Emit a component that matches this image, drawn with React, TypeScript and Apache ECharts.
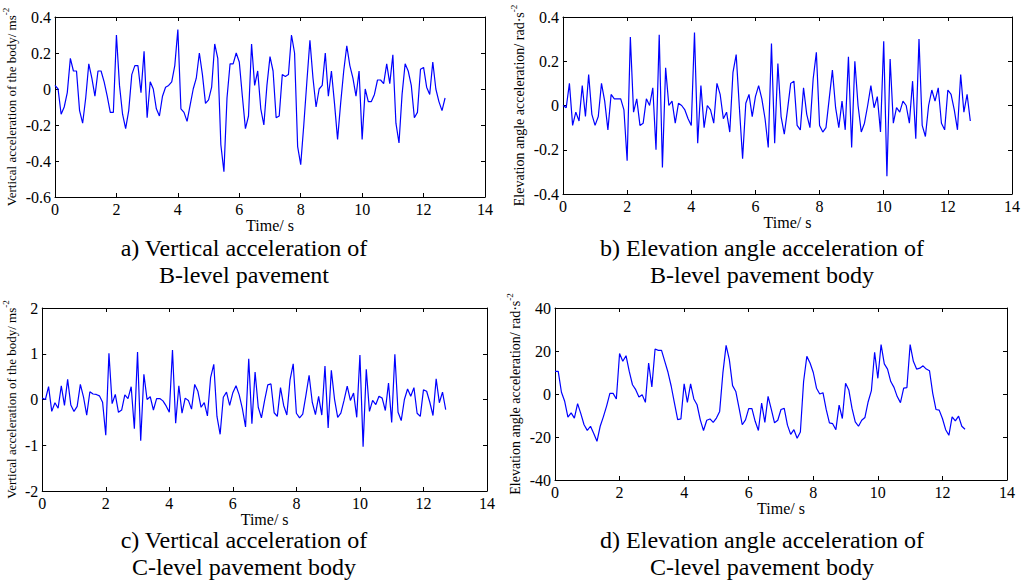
import React, { useEffect, useRef } from "react";
import * as echarts from "echarts";

const FONT = '"Liberation Serif", "Times New Roman", serif';
const DT = 0.1;

// a) B-level vertical acceleration (m/s^2), samples every 0.1 s from 0 to 12.7 s
const bVertical = [
  0.02, 0.0, -0.14, -0.1, -0.02, 0.17, 0.1, 0.1, -0.12, -0.19,
  -0.05, 0.14, 0.06, -0.04, 0.1, 0.1, 0.04, -0.04, -0.13, -0.13,
  0.3, 0.02, -0.14, -0.22, -0.12, 0.08, 0.13, 0.13, -0.02, 0.21,
  -0.16, 0.04, 0.0, -0.11, -0.15, -0.04, 0.01, 0.02, 0.04, 0.13,
  0.33, -0.11, -0.13, -0.18, -0.09, 0.0, 0.06, 0.2, 0.08, -0.08,
  -0.06, 0.01, 0.25, 0.17, -0.31, -0.46, -0.05, 0.14, 0.14, 0.2,
  0.15, -0.04, -0.22, -0.15, 0.25, 0.02, 0.1, -0.11, -0.2, 0.02,
  0.18, 0.1, -0.16, -0.15, 0.08, 0.07, 0.08, 0.3, 0.2, -0.32,
  -0.42, -0.2, 0.04, 0.27, 0.06, -0.1, 0.0, 0.02, 0.2, -0.04,
  0.1, -0.08, -0.28, -0.08, 0.1, 0.24, 0.13, 0.06, -0.04, 0.1,
  -0.28, 0.0, -0.07, -0.07, -0.03, 0.05, 0.05, 0.03, 0.14, 0.03,
  0.19, -0.19, -0.3, -0.03, 0.14, 0.1, 0.02, -0.16, -0.13, 0.11,
  0.12, 0.01, -0.03, 0.15, 0.0, -0.07, -0.12, -0.05,
];

// b) B-level elevation angle acceleration (rad/s^2)
const bElevation = [
  0.0, -0.01, 0.1, -0.09, -0.03, -0.07, 0.09, -0.05, 0.14, -0.04,
  -0.09, -0.05, 0.1, 0.02, -0.11, 0.05, 0.03, 0.03, 0.03, -0.02,
  -0.25, 0.31, -0.03, 0.03, -0.09, -0.08, 0.03, 0.0, 0.08, -0.2,
  0.32, -0.28, 0.17, 0.0, 0.02, -0.08, 0.01, 0.0, -0.02, -0.06,
  -0.09, 0.33, -0.17, 0.09, -0.1, 0.0, -0.02, -0.08, 0.1, 0.05,
  -0.06, -0.03, -0.12, 0.15, 0.23, -0.01, -0.24, 0.01, 0.05, -0.05,
  0.04, 0.09, 0.03, -0.06, -0.19, 0.28, -0.17, 0.19, -0.05, -0.13,
  -0.02, 0.1, 0.11, -0.09, -0.11, 0.08, -0.04, -0.1, 0.12, 0.24,
  -0.09, -0.12, -0.1, 0.03, 0.16, -0.01, -0.1, 0.02, -0.11, 0.22,
  -0.19, 0.2, 0.0, -0.12, -0.08, 0.0, 0.09, -0.01, 0.04, -0.12,
  0.29, -0.32, 0.21, -0.08, -0.01, -0.03, 0.02, 0.0, -0.08, 0.11,
  -0.15, 0.3, -0.09, -0.14, 0.0, 0.07, 0.02, 0.08, -0.08, -0.11,
  0.07, 0.05, -0.02, -0.11, 0.14, -0.03, 0.05, -0.07,
];

// c) C-level vertical acceleration (m/s^2)
const cVertical = [
  0.03, 0.0, 0.28, -0.26, -0.07, -0.19, 0.3, -0.13, 0.44, -0.12,
  -0.26, -0.15, 0.33, 0.05, -0.34, 0.17, 0.12, 0.11, 0.08, -0.06,
  -0.78, 1.01, -0.09, 0.11, -0.28, -0.23, 0.1, 0.02, 0.28, -0.64,
  1.04, -0.9, 0.55, 0.0, 0.06, -0.23, 0.02, 0.02, -0.03, -0.14,
  -0.28, 1.08, -0.52, 0.3, -0.3, 0.03, -0.02, -0.21, 0.33, 0.18,
  -0.17, -0.07, -0.36, 0.48, 0.77, -0.37, -0.76, 0.05, 0.16, -0.13,
  0.15, 0.3, 0.1, -0.2, -0.6, 0.89, -0.53, 0.6, -0.17, -0.4,
  -0.02, 0.32, 0.34, -0.29, -0.37, 0.26, -0.13, -0.34, 0.43, 0.78,
  -0.3, -0.4, -0.32, 0.09, 0.53, -0.06, -0.33, 0.07, -0.34, 0.73,
  -0.62, 0.64, 0.01, -0.39, -0.3, -0.02, 0.29, -0.02, 0.14, -0.39,
  0.97, -1.03, 0.66, -0.26, -0.02, -0.11, 0.07, 0.03, -0.24, 0.36,
  -0.5, 0.99, -0.28, -0.46, 0.0, 0.23, 0.07, 0.26, -0.3, -0.37,
  0.21, 0.18, -0.06, -0.35, 0.45, -0.07, 0.16, -0.22,
];

// d) C-level elevation angle acceleration (rad/s^2)
const cElevation = [
  10.5, 10.5, 0.8, -3.4, -10.7, -8.8, -11.2, -4.5, -9.1, -14.3,
  -16.9, -15.0, -18.4, -22.0, -15.0, -10.5, -5.5, 0.3, 0.3, -2.3,
  18.8, 15.2, 17.8, 10.5, 4.3, 2.0, -1.4, -0.3, -3.9, 14.4,
  3.3, 20.9, 20.3, 20.3, 15.2, 10.1, 3.6, -4.2, -11.9, -11.6,
  4.7, -3.9, 4.7, -2.3, -5.0, -12.0, -17.0, -12.2, -11.6, -13.2,
  -11.2, -8.1, 9.8, 22.6, 16.0, 3.9, 1.2, -6.5, -14.3, -12.0,
  -6.8, -6.8, -12.7, -17.0, -4.2, -13.2, -1.1, -7.2, -13.4, -12.2,
  -7.2, -6.7, -14.5, -18.8, -16.6, -20.6, -17.7, 5.8, 17.5, 14.4,
  10.0, 2.7, 0.0, 0.6, -7.2, -13.4, -13.8, -16.6, -5.2, -11.4,
  5.0, 1.9, -6.7, -13.0, -15.0, -12.2, -10.9, -3.6, 1.6, 19.4,
  7.3, 23.0, 14.0, 11.6, 5.8, 3.1, -1.2, -4.0, 2.7, 3.0,
  23.0, 15.2, 11.6, 12.0, 13.1, 11.6, 10.8, 0.3, -7.2, -7.5,
  -11.4, -16.6, -19.2, -10.6, -12.5, -10.3, -15.0, -16.4,
];

const xTicks = { min: 0, max: 14, interval: 2 };
const yRanges = [
  { min: -0.6, max: 0.4, interval: 0.2 },
  { min: -0.4, max: 0.4, interval: 0.2 },
  { min: -2, max: 2, interval: 1 },
  { min: -40, max: 40, interval: 20 },
];
const yNames = [
  "Vertical acceleration of the body/ ms{sup|-2}",
  "Elevation angle acceleration/ rad·s{sup|-2}",
  "Vertical acceleration of the body/ ms{sup|-2}",
  "Elevation angle acceleration/ rad·s{sup|-2}",
];
const captions = [
  ["a) Vertical acceleration of", "B-level pavement"],
  ["b) Elevation angle acceleration of", "B-level pavement body"],
  ["c) Vertical acceleration of", "C-level pavement body"],
  ["d) Elevation angle acceleration of", "C-level pavement body"],
];
const seriesList = [bVertical, bElevation, cVertical, cElevation];

export default function App() {
  const ref = useRef<HTMLDivElement>(null);
  useEffect(() => {
    if (!ref.current) return;
    const chart = echarts.init(ref.current, null, { renderer: "svg" });

    const grids = [
      { left: 53, top: 17, width: 432, height: 180 },
      { left: 563, top: 17, width: 449, height: 177 },
      { left: 39, top: 308, width: 448, height: 183 },
      { left: 555, top: 308, width: 452, height: 172 },
    ];
    const nameGaps = [34, 33, 20, 29];
    const nameSizes = [13, 14, 13, 14];
    const captionPos = [
      { x: 244, y1: 248, y2: 275 },
      { x: 762, y1: 248, y2: 275 },
      { x: 244, y1: 540, y2: 567 },
      { x: 762, y1: 540, y2: 567 },
    ];

    const lineStyle = { color: "#000", width: 1 };
    const tick = { show: true, inside: true, length: 4, lineStyle };
    const labelStyle = { fontFamily: FONT, fontSize: 16, color: "#000" };

    const xAxis: any[] = [];
    const yAxis: any[] = [];
    const series: any[] = [];
    grids.forEach((g, i) => {
      xAxis.push({
        type: "value",
        gridIndex: i,
        position: "bottom",
        ...xTicks,
        name: "Time/ s",
        nameLocation: "middle",
        nameGap: 17,
        nameTextStyle: { fontFamily: FONT, fontSize: 16, color: "#000" },
        axisLine: { show: true, onZero: false, lineStyle },
        axisTick: tick,
        splitLine: { show: false },
        axisLabel: { ...labelStyle, margin: 4 },
      });
      xAxis.push({
        type: "value",
        gridIndex: i,
        position: "top",
        ...xTicks,
        axisLine: { show: true, onZero: false, lineStyle },
        axisTick: tick,
        splitLine: { show: false },
        axisLabel: { show: false },
      });
      const yr = yRanges[i];
      yAxis.push({
        type: "value",
        gridIndex: i,
        position: "left",
        ...yr,
        name: yNames[i],
        nameLocation: "middle",
        nameGap: nameGaps[i],
        nameTextStyle: {
          fontFamily: FONT,
          fontSize: nameSizes[i],
          color: "#000",
          lineHeight: 20,
          rich: {
            sup: {
              fontFamily: FONT,
              fontSize: 9,
              color: "#000",
              verticalAlign: "top",
              lineHeight: 20,
            },
          },
        },
        axisLine: { show: true, onZero: false, lineStyle },
        axisTick: tick,
        splitLine: { show: false },
        axisLabel: {
          ...labelStyle,
          margin: 4,
          formatter: (v: number) => String(parseFloat(v.toFixed(2))),
        },
      });
      yAxis.push({
        type: "value",
        gridIndex: i,
        position: "right",
        ...yr,
        axisLine: { show: true, onZero: false, lineStyle },
        axisTick: tick,
        splitLine: { show: false },
        axisLabel: { show: false },
      });
      series.push({
        type: "line",
        xAxisIndex: i * 2,
        yAxisIndex: i * 2,
        data: seriesList[i].map((v, k) => [Number((k * DT).toFixed(1)), v]),
        showSymbol: false,
        symbol: "none",
        lineStyle: { color: "#0000ff", width: 1.2 },
      });
    });

    const graphic: any[] = [];
    captions.forEach((c, i) => {
      const p = captionPos[i];
      [c[0], c[1]].forEach((t, j) => {
        graphic.push({
          type: "text",
          x: p.x,
          y: j === 0 ? p.y1 : p.y2,
          style: {
            text: t,
            fontFamily: FONT,
            fontSize: 24,
            fill: "#000",
            align: "center",
            verticalAlign: "middle",
          },
        });
      });
    });

    chart.setOption({
      animation: false,
      backgroundColor: "#fff",
      grid: grids,
      xAxis,
      yAxis,
      series,
      graphic,
    });
    return () => chart.dispose();
  }, []);

  return (
    <div
      ref={ref}
      style={{ position: "absolute", left: 0, top: 0, width: 1028, height: 581 }}
    />
  );
}
